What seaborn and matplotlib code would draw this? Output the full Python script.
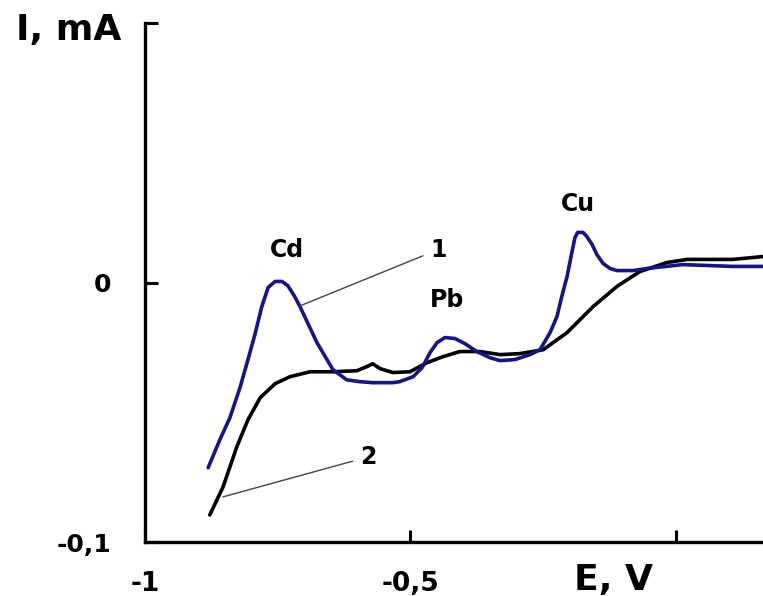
#!/usr/bin/env python3
"""Stripping voltammogram: curves 1 (blue) and 2 (black) with Cd, Pb, Cu peaks."""

import seaborn as sns
import pandas as pd
import matplotlib.pyplot as plt

# DATA
# curve 1 (blue) - potential E, V and current I, mA
e_curve1 = [-0.881, -0.859, -0.840, -0.821, -0.806, -0.793, -0.780, -0.768, -0.755, -0.742,
            -0.731, -0.718, -0.708, -0.676, -0.646, -0.620, -0.596, -0.571, -0.533,
            -0.520, -0.495, -0.478, -0.463, -0.450, -0.435, -0.416, -0.397, -0.375,
            -0.350, -0.331, -0.303, -0.275, -0.256, -0.237, -0.224, -0.215, -0.205,
            -0.196, -0.190, -0.185, -0.175, -0.168, -0.158, -0.149, -0.137, -0.124,
            -0.111, -0.081, -0.055, 0.013, 0.107, 0.164]
i_curve1 = [-0.0714, -0.0606, -0.0521, -0.0405, -0.0297, -0.0201, -0.0093, -0.0019, 0.0004, 0.0004,
            -0.0012, -0.0054, -0.0093, -0.0232, -0.0336, -0.0375, -0.0382, -0.0386, -0.0386,
            -0.0382, -0.0363, -0.0328, -0.0270, -0.0232, -0.0212, -0.0216, -0.0236, -0.0266,
            -0.0290, -0.0301, -0.0297, -0.0278, -0.0259, -0.0193, -0.0131, -0.0054, 0.0023,
            0.0116, 0.0174, 0.0193, 0.0193, 0.0178, 0.0147, 0.0108, 0.0073, 0.0054,
            0.0046, 0.0046, 0.0054, 0.0069, 0.0062, 0.0062]

# curve 2 (black)
e_curve2 = [-0.878, -0.853, -0.827, -0.806, -0.783, -0.755, -0.727, -0.689, -0.646,
            -0.601, -0.582, -0.571, -0.557, -0.533, -0.501, -0.469, -0.439, -0.407,
            -0.369, -0.331, -0.294, -0.250, -0.205, -0.156, -0.111, -0.068, -0.017,
            0.021, 0.107, 0.164]
i_curve2 = [-0.0896, -0.0788, -0.0633, -0.0529, -0.0444, -0.0390, -0.0363, -0.0344, -0.0344,
            -0.0340, -0.0324, -0.0313, -0.0332, -0.0347, -0.0344, -0.0309, -0.0286, -0.0266,
            -0.0266, -0.0278, -0.0274, -0.0259, -0.0193, -0.0093, -0.0015, 0.0042, 0.0077,
            0.0089, 0.0089, 0.0100]

x_ticks = [-1, -0.5, 0]
x_tick_labels = ["-1", "-0,5", ""]
y_ticks = [-0.1, 0, 0.1]
y_tick_labels = ["-0,1", "0", ""]

peak_names = ["Cd", "Pb", "Cu"]
peak_e = [-0.733, -0.431, -0.185]
peak_i = [0.0127, -0.0069, 0.0301]

# PLOT
sns.set_style("white")
plt.rcParams["font.family"] = ["DejaVu Sans"]
plt.rcParams["text.color"] = "black"

df1 = pd.DataFrame({"E": e_curve1, "I": i_curve1})
df2 = pd.DataFrame({"E": e_curve2, "I": i_curve2})

fig = plt.figure(figsize=(7.63, 5.96), dpi=100)
ax = fig.add_axes([0.190, 0.0906, 0.810, 0.8708])

sns.lineplot(data=df2, x="E", y="I", sort=False, color="black", linewidth=2.6, ax=ax)
sns.lineplot(data=df1, x="E", y="I", sort=False, color="#14148c", linewidth=2.6, ax=ax)

ax.set_xlim(-1, 0.164)
ax.set_ylim(-0.1, 0.1)
ax.set_xticks(x_ticks)
ax.set_xticklabels(x_tick_labels, fontsize=19, fontweight="bold", color="black")
ax.set_yticks(y_ticks)
ax.set_yticklabels(y_tick_labels, fontsize=18, fontweight="bold", color="black")
ax.tick_params(direction="in", length=9, width=2.2, bottom=True, left=True, colors="black")
ax.tick_params(axis="x", pad=21)
ax.tick_params(axis="y", pad=24)
ax.set_xlabel("")
ax.set_ylabel("")

sns.despine(ax=ax)
for side in ["left", "bottom"]:
    ax.spines[side].set_linewidth(2.4)
    ax.spines[side].set_color("black")

# peak labels
for name, e, i in zip(peak_names, peak_e, peak_i):
    ax.text(e, i, name, fontsize=17, fontweight="bold", ha="center", va="center",
            color="black")

# curve number callouts
ax.annotate("1", xy=(-0.708, -0.0090), xytext=(-0.463, 0.0127),
            fontsize=17, fontweight="bold", ha="left", va="center", color="black",
            arrowprops=dict(arrowstyle="-", color="#444444", lw=1.0,
                            shrinkA=3, shrinkB=0))
ax.annotate("2", xy=(-0.853, -0.0826), xytext=(-0.595, -0.0672),
            fontsize=17, fontweight="bold", ha="left", va="center", color="black",
            arrowprops=dict(arrowstyle="-", color="#444444", lw=1.0,
                            shrinkA=3, shrinkB=0))

fig.text(69 / 763, 1 - 30 / 596, "I, mA", fontsize=26, fontweight="bold",
         ha="center", va="center", color="black")
fig.text(614 / 763, 1 - 580 / 596, "E, V", fontsize=26, fontweight="bold",
         ha="center", va="center", color="black")

plt.savefig("out.png", dpi=100)
